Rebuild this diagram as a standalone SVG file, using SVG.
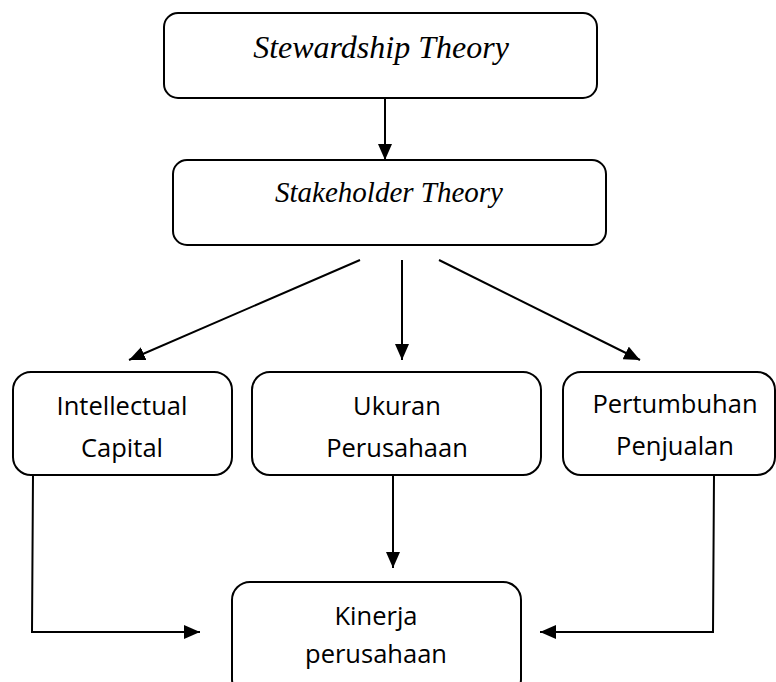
<svg xmlns="http://www.w3.org/2000/svg" width="776" height="682" viewBox="0 0 776 682">
<style>
.box{fill:#fff;stroke:#000;stroke-width:2}
.t1{font-family:"Liberation Serif",serif;font-style:italic;text-anchor:middle;fill:#000}
.t2{font-family:"Open Sans",sans-serif;font-size:25.5px;text-anchor:middle;fill:#000}
.c{fill:none;stroke:#000;stroke-width:2}
</style>
<defs>
<marker id="ah" viewBox="0 0 16 14" refX="16" refY="7" markerWidth="16" markerHeight="14" markerUnits="userSpaceOnUse" orient="auto">
<path d="M0,0 L16,7 L0,14 Z" fill="#000"/>
</marker>
</defs>
<rect width="776" height="682" fill="#fff"/>
<g id="connectors">
<line class="c" x1="385" y1="98" x2="385" y2="160" marker-end="url(#ah)"/>
<line class="c" x1="360" y1="260" x2="129" y2="360" marker-end="url(#ah)"/>
<line class="c" x1="402" y1="260" x2="402" y2="360" marker-end="url(#ah)"/>
<line class="c" x1="439" y1="260" x2="640" y2="360" marker-end="url(#ah)"/>
<polyline class="c" points="33,475 32,632 200,632" marker-end="url(#ah)"/>
<line class="c" x1="393" y1="475" x2="393" y2="568" marker-end="url(#ah)"/>
<polyline class="c" points="714,475 713,632 540,632" marker-end="url(#ah)"/>
</g>
<g id="stewardship">
<rect class="box" x="164" y="13" width="433" height="85" rx="14"/>
<text class="t1" x="381" y="58" font-size="32">Stewardship Theory</text>
</g>
<g id="stakeholder">
<rect class="box" x="173" y="160" width="433" height="85" rx="14"/>
<text class="t1" x="389" y="202" font-size="29">Stakeholder Theory</text>
</g>
<g id="intellectual">
<rect class="box" x="13" y="372" width="219" height="103" rx="18"/>
<text class="t2" x="122" y="415">Intellectual</text>
<text class="t2" x="122" y="457">Capital</text>
</g>
<g id="ukuran">
<rect class="box" x="252" y="372" width="289" height="103" rx="18"/>
<text class="t2" x="397" y="415">Ukuran</text>
<text class="t2" x="397" y="457">Perusahaan</text>
</g>
<g id="pertumbuhan">
<rect class="box" x="563" y="372" width="212" height="103" rx="18"/>
<text class="t2" x="675" y="413">Pertumbuhan</text>
<text class="t2" x="675" y="455">Penjualan</text>
</g>
<g id="kinerja">
<rect class="box" x="232" y="582" width="289" height="115" rx="18"/>
<text class="t2" x="376" y="625">Kinerja</text>
<text class="t2" x="376" y="663">perusahaan</text>
</g>
</svg>
